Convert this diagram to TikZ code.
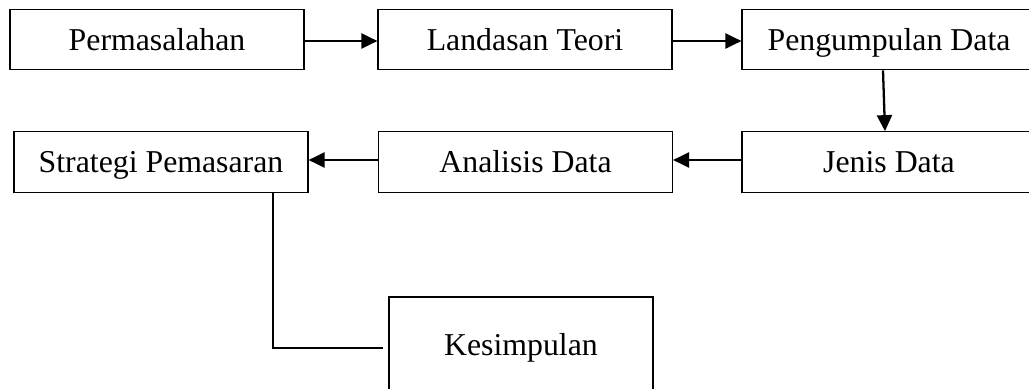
\documentclass[tikz,border=0pt]{standalone}
\usepackage{fontspec}
\setmainfont{Liberation Serif}
\usetikzlibrary{arrows.meta}

\begin{document}
\begin{tikzpicture}[x=0.02cm, y=-0.02cm,
    kotak/.style={draw, line width=0.7pt, minimum width=5.88cm, minimum height=1.21cm,
      inner sep=0pt, text height=12pt, text depth=0pt, font=\fontsize{18.1}{22}\selectfont},
    panah/.style={line width=1.3pt, -{Triangle[length=0.32cm,width=0.3cm]}}]
      \useasboundingbox (0,0) rectangle (1029,389);
      \clip (0,0) rectangle (1029,389);

      % Kotak
      \node[kotak] (p) at (157,39.5) {Permasalahan};
      \node[kotak] (l) at (525,39.5) {Landasan Teori};
      \node[kotak] (pd) at (889,39.5) {Pengumpulan Data};
      \node[kotak] (jd) at (889,162) {Jenis Data};
      \node[kotak] (ad) at (525.5,162) {Analisis Data};
      \node[kotak] (sp) at (161,162) {Strategi Pemasaran};
      \node[kotak, minimum width=5.28cm, minimum height=1.92cm] (k) at (521,345) {Kesimpulan};
      \coordinate (ujung) at (383,348);

      % Panah
      \draw[panah] ([yshift=-0.03cm]p.east) -- ([yshift=-0.03cm]l.west);
      \draw[panah] ([yshift=-0.03cm]l.east) -- ([yshift=-0.03cm]pd.west);
      \draw[panah] ([xshift=-0.12cm]pd.south) -- ([xshift=-0.08cm]jd.north);
      \draw[panah] ([yshift=0.04cm]jd.west) -- ([yshift=0.04cm]ad.east);
      \draw[panah] ([yshift=0.04cm]ad.west) -- ([yshift=0.04cm]sp.east);
      \draw[line width=0.7pt] ([xshift=2.24cm]sp.south) |- (ujung);
    \end{tikzpicture}
\end{document}
